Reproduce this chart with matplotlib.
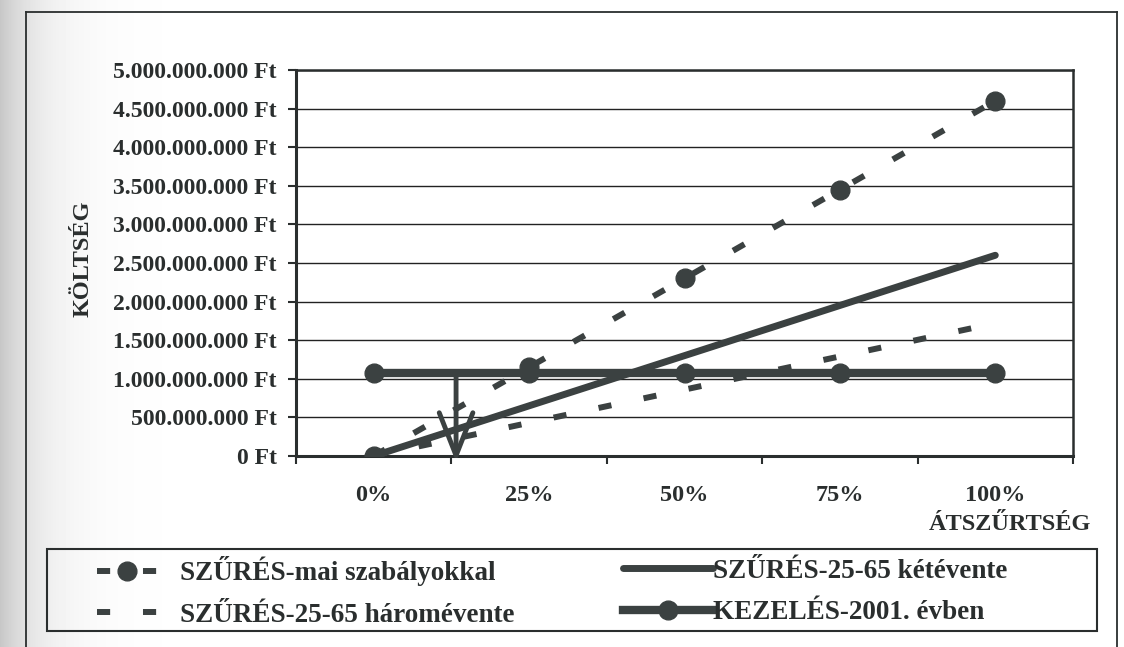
import numpy as np
import matplotlib.pyplot as plt
from matplotlib.patches import Rectangle
from matplotlib.lines import Line2D

plt.rcParams['font.family'] = ['Liberation Serif', 'DejaVu Serif']
plt.rcParams['font.weight'] = 'bold'

# data
categories = ['0%', '25%', '50%', '75%', '100%']
mai_szabalyok = [0, 1.15e9, 2.30e9, 3.45e9, 4.60e9]
ketevente = [0, 0.65e9, 1.30e9, 1.95e9, 2.60e9]
haromevente = [0, 0.43e9, 0.86e9, 1.29e9, 1.72e9]
kezeles = [1.07e9, 1.07e9, 1.07e9, 1.07e9, 1.07e9]
yticks = [0, 0.5e9, 1.0e9, 1.5e9, 2.0e9, 2.5e9, 3.0e9, 3.5e9, 4.0e9, 4.5e9, 5.0e9]

# arrow from the treatment cost level down to the axis
arrow_x = 0.53
arrow_top = 1.07e9
arrow_tip = -0.08e9

ink = '#2a2e2e'
line_c = '#3b4141'

W, H = 1124, 647
fig = plt.figure(figsize=(W / 100, H / 100), dpi=100)

# scanner shadow along the left edge
bg = fig.add_axes([0, 0, 1, 1], zorder=-10)
xs = np.arange(W)
shade = 1 - 0.22 * np.exp(-xs / 40.0)
bg.imshow(np.tile(shade, (2, 1)), cmap='gray', vmin=0, vmax=1, aspect='auto',
          extent=[0, 1, 0, 1])
bg.set_axis_off()

# outer frame
for seg in [([26, 26], [647, 12]), ([26, 1117], [12, 12]), ([1117, 1117], [12, 647])]:
    fig.add_artist(Line2D(np.array(seg[0]) / W, 1 - np.array(seg[1]) / H,
                          color=ink, lw=1.3, transform=fig.transFigure))

ax = fig.add_axes([296 / W, 1 - 456 / H, (1073 - 296) / W, (456 - 70) / H])
ax.set_facecolor('none')
x = np.arange(len(categories))

dash = (0, (2.2, 5.5))
l1, = ax.plot(x, mai_szabalyok, color=line_c, lw=4.3, linestyle=dash,
              dash_capstyle='butt', marker='o', markersize=13.5, zorder=4)
l2, = ax.plot(x, ketevente, color=line_c, lw=5, solid_capstyle='round', zorder=3)
l3, = ax.plot(x, haromevente, color=line_c, lw=4.3, linestyle=dash,
              dash_capstyle='butt', zorder=3)
l4, = ax.plot(x, kezeles, color=line_c, lw=6, marker='o', markersize=13.5, zorder=3)

ax.annotate('', xy=(arrow_x, arrow_tip), xytext=(arrow_x, arrow_top),
            annotation_clip=False, zorder=5,
            arrowprops=dict(arrowstyle='->,head_length=1.4,head_width=0.55',
                            color=line_c, lw=3.5, mutation_scale=22,
                            shrinkA=0, shrinkB=0))

ax.set_xlim(-0.5, 4.5)
ax.set_ylim(0, 5.0e9)
ax.set_yticks(yticks)
ax.set_yticklabels([f"{int(v):,}".replace(',', '.') + ' Ft' for v in yticks])
ax.set_xticks(x)
ax.set_xticklabels(categories)
ax.set_xticks(np.arange(-0.5, 5, 1), minor=True)
ax.tick_params(axis='x', which='major', length=0, pad=21, labelsize=17.5, colors=ink)
ax.tick_params(axis='x', which='minor', length=6, width=1.5, direction='out', color=ink)
ax.tick_params(axis='y', length=6, width=1.5, pad=8, labelsize=17, colors=ink)
ax.yaxis.grid(True, color='#222222', lw=1)
ax.set_axisbelow(True)
for side, sp in ax.spines.items():
    sp.set_color(ink)
    sp.set_linewidth(2.2 if side in ('left', 'bottom') else 1.8)

fig.text(83 / W, 1 - 259 / H, 'KÖLTSÉG', rotation=90, ha='center', va='center',
         fontsize=17.5, color=ink)
fig.text(1010 / W, 1 - 525 / H, 'ÁTSZŰRTSÉG', ha='center', va='center',
         fontsize=17.5, color=ink)

# legend box with two columns
fig.add_artist(Rectangle((47 / W, 1 - 631 / H), 1050 / W, 82 / H, fill=False,
                         edgecolor=ink, lw=1.5, transform=fig.transFigure))
leg_kw = dict(frameon=False, fontsize=19.5, loc='center left', borderpad=0,
              borderaxespad=0, labelspacing=0.6, numpoints=1,
              bbox_transform=fig.transFigure, labelcolor=ink)
leg1 = fig.legend([l1, l3], ['SZŰRÉS-mai szabályokkal', 'SZŰRÉS-25-65 háromévente'],
                  bbox_to_anchor=(97 / W, 1 - 592 / H), handlelength=2.2,
                  handletextpad=0.85, **leg_kw)
leg2 = fig.legend([l2, l4], ['SZŰRÉS-25-65 kétévente', 'KEZELÉS-2001. évben'],
                  bbox_to_anchor=(623 / W, 1 - 592 / H), handlelength=3.33,
                  handletextpad=0.0, **leg_kw)

fig.savefig('out.png', dpi=100)
